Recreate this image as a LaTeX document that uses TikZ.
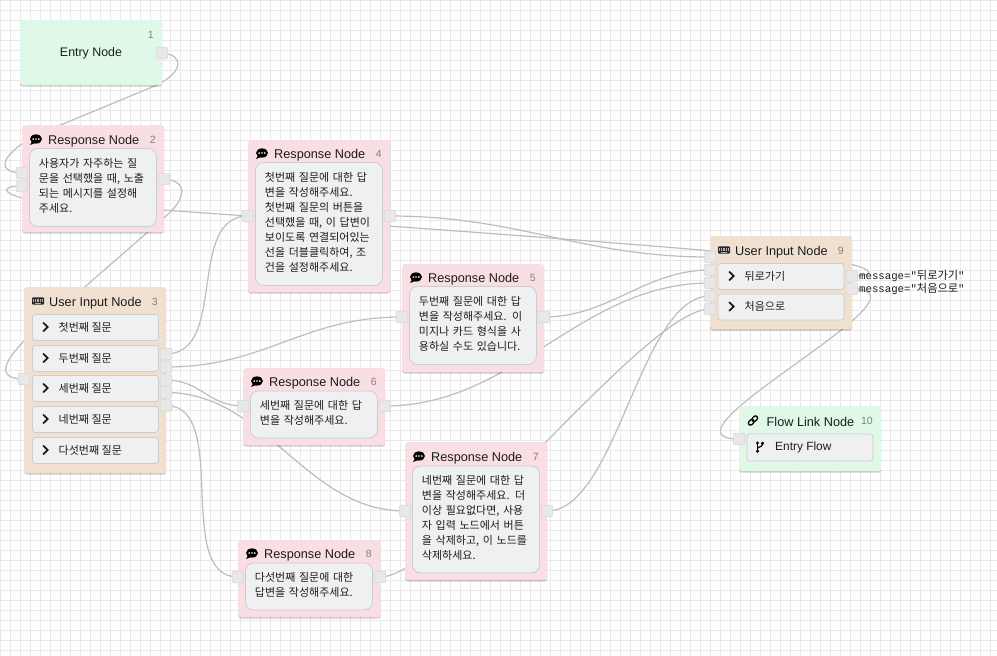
\documentclass[tikz,border=0pt]{standalone}
\usepackage{fontspec}
\setmainfont{Liberation Sans}
\newfontfamily\krfont{Noto Sans CJK KR}
\newfontfamily\monofont{Liberation Mono}
\usetikzlibrary{shadows}
\pgfdeclarelayer{gridlayer}
\pgfdeclarelayer{edgelayer}
\pgfsetlayers{gridlayer,edgelayer,main}
\definecolor{gridc}{HTML}{E9E9E9}
\definecolor{greenbg}{HTML}{DFF8E7}
\definecolor{pinkbg}{HTML}{F9DFE4}
\definecolor{tanbg}{HTML}{F0E0D0}
\definecolor{bodybg}{HTML}{EFF0F2}
\definecolor{bodyln}{HTML}{CDCDCF}
\definecolor{edgec}{HTML}{BDBDBD}
\definecolor{portbg}{HTML}{E8E8E8}
\definecolor{portln}{HTML}{DADADA}
\definecolor{inkc}{HTML}{1C1C1C}
\tikzset{
  x=1pt,y=-1pt,
  cardbox/.style={rectangle,rounded corners=2.5pt,anchor=north west,inner sep=0pt,
    drop shadow={shadow xshift=0pt,shadow yshift=-1.3pt,opacity=.2,fill=black}},
  greencard/.style={cardbox,fill=greenbg},
  pinkcard/.style={cardbox,fill=pinkbg},
  tancard/.style={cardbox,fill=tanbg},
  bodybox/.style={rectangle,rounded corners=8pt,anchor=north west,fill=bodybg,draw=bodyln,line width=.8pt,
    inner xsep=9.5pt,inner ysep=0pt,minimum width=127pt,text width=108pt,align=left,text=inkc,
    font=\krfont\fontsize{11}{15}\selectfont,execute at end node={\par\kern4pt}},
  btnbox/.style={rectangle,rounded corners=3pt,anchor=north west,fill=bodybg,draw=bodyln,line width=.8pt,
    inner sep=0pt,minimum width=126pt,text=inkc},
  btntext/.style={anchor=west,inner sep=0pt,text=inkc,yshift=-.7pt,font=\krfont\fontsize{11}{13}\selectfont},
  titletext/.style={anchor=west,inner sep=0pt,text=inkc,yshift=-1.4pt,font=\fontsize{12.7}{15}\selectfont},
  numtext/.style={anchor=east,inner sep=0pt,text=black!50,yshift=-.5pt,font=\fontsize{10.5}{13}\selectfont},
  msgtext/.style={anchor=west,inner sep=0pt,text=inkc,yshift=-1pt,font=\fontsize{10.7}{12}\selectfont},
  portbox/.style={rectangle,rounded corners=2pt,minimum width=11.5pt,minimum height=11.5pt,inner sep=0pt,fill=portbg,draw=portln,line width=.7pt},
  linkline/.style={draw=edgec,line width=1.2pt},
  speechicon/.pic={
    \fill[black] (0,0) ellipse [x radius=6pt,y radius=4.6pt];
    \fill[black] (-4,2.5) -- (-6,6) -- (-1,4) -- cycle;
    \fill[white] (-2.8,0) circle (.95pt) (0,0) circle (.95pt) (2.8,0) circle (.95pt);
  },
  keyicon/.pic={
    \fill[black!85,rounded corners=1pt] (-6,-3.6) rectangle (6,3.6);
    \foreach \yy in {-1.9,0} \foreach \xx in {-4.5,-2.7,-.9,.9,2.7,4.5}
      \fill[black!30] (\xx-.55,\yy-.55) rectangle (\xx+.55,\yy+.55);
    \fill[black!30] (-3,1.5) rectangle (3,2.6);
  },
  chevicon/.pic={
    \draw[black!90,line width=1.7pt,line cap=butt,line join=miter] (-2.4,-4.4) -- (2.2,0) -- (-2.4,4.4);
  },
  linkicon/.pic={
    \draw[black,line width=1.3pt,rotate=45,rounded corners=2pt] (-5.6,-2.1) rectangle (.6,2.1);
    \draw[black,line width=1.3pt,rotate=45,rounded corners=2pt] (-.6,-2.1) rectangle (5.6,2.1);
  },
  branchicon/.pic={
    \draw[black,line width=1.2pt] (-2.5,-3.5) -- (-2.5,3.5);
    \draw[black,line width=1.2pt] (-2.5,1.5) .. controls (-2.5,-.5) and (2.5,.5) .. (2.5,-3);
    \fill[black] (-2.5,-4) circle (1.7pt) (-2.5,4.2) circle (1.7pt) (2.5,-3.6) circle (1.7pt);
  },
}
\begin{document}
\begin{tikzpicture}
\useasboundingbox (0,0) rectangle (997,656);
\begin{pgfonlayer}{gridlayer}
  \fill[white] (0,0) rectangle (997,656);
  \foreach \gx in {0,10,...,990} \draw[gridc,line width=1pt] (\gx+.5,0) -- (\gx+.5,656);
  \foreach \gy in {0,10,...,650} \draw[gridc,line width=1pt] (0,\gy+.5) -- (997,\gy+.5);
\end{pgfonlayer}

% Entry node
\node[greencard,minimum width=142pt,minimum height=65pt] (n1) at (20,20) {};
\node[anchor=center,inner sep=0pt,text=inkc,font=\fontsize{12.4}{15}\selectfont] (n1t) at (91,53.5) {Entry Node};
\node[numtext] (n1n) at (154,34) {1};
\node[portbox] (p1r) at (162,53) {};

% Response 2
\node[pinkcard,minimum width=142pt,minimum height=107pt] (n2) at (22,125) {};
\pic at (36,139) {speechicon};
\node[titletext] (n2t) at (48,140) {Response Node};
\node[numtext] (n2n) at (156,139.5) {2};
\node[bodybox,minimum height=78pt] (n2b) at (29,148) {사용자가 자주하는 질\\문을 선택했을 때, 노출\\되는 메시지를 설정해\\주세요.};
\node[portbox] (p2a) at (22,173) {};
\node[portbox] (p2b) at (22,186) {};
\node[portbox] (p2r) at (164,179) {};

% User input 3
\node[tancard,minimum width=142pt,minimum height=186pt] (n3) at (24,287) {};
\pic at (38,301) {keyicon};
\node[titletext] (n3t) at (49,301.5) {User Input Node};
\node[numtext] (n3n) at (158,301) {3};
\foreach \nm/\yy/\lab in {a/314/첫번째 질문,b/345/두번째 질문,c/375/세번째 질문,d/406/네번째 질문,e/437/다섯번째 질문}{
  \node[btnbox,minimum height=26pt] (n3\nm) at (32,\yy) {};
  \pic at (45.5,\yy+13) {chevicon};
  \node[btntext] (n3\nm t) at (58.5,\yy+13) {\lab};
}
\node[portbox] (p3l) at (24,379) {};
\node[portbox] (p3a) at (166,354) {};
\node[portbox] (p3b) at (166,367) {};
\node[portbox] (p3c) at (166,380) {};
\node[portbox] (p3d) at (166,392.5) {};
\node[portbox] (p3e) at (166,405.5) {};

% Response 4
\node[pinkcard,minimum width=142pt,minimum height=152pt] (n4) at (248,140) {};
\pic at (262,153) {speechicon};
\node[titletext] (n4t) at (274,153.5) {Response Node};
\node[numtext] (n4n) at (382,153.5) {4};
\node[bodybox,minimum height=123pt] (n4b) at (255,162) {첫번째 질문에 대한 답\\변을 작성해주세요.\\첫번째 질문의 버튼을\\선택했을 때, 이 답변이\\보이도록 연결되어있는\\선을 더블클릭하여, 조\\건을 설정해주세요.};
\node[portbox] (p4l) at (248,216) {};
\node[portbox] (p4r) at (390,216) {};

% Response 5
\node[pinkcard,minimum width=142pt,minimum height=108pt] (n5) at (402,264) {};
\pic at (416,277) {speechicon};
\node[titletext] (n5t) at (428,277.5) {Response Node};
\node[numtext] (n5n) at (536,277.5) {5};
\node[bodybox,minimum height=78pt] (n5b) at (409,286) {두번째 질문에 대한 답\\변을 작성해주세요. 이\\미지나 카드 형식을 사\\용하실 수도 있습니다.};
\node[portbox] (p5l) at (402,317) {};
\node[portbox] (p5r) at (544,317) {};

% Response 6
\node[pinkcard,minimum width=142pt,minimum height=77pt] (n6) at (243,368) {};
\pic at (257,381) {speechicon};
\node[titletext] (n6t) at (269,381.5) {Response Node};
\node[numtext] (n6n) at (377,381) {6};
\node[bodybox,minimum height=47pt] (n6b) at (250,390.5) {세번째 질문에 대한 답\\변을 작성해주세요.};
\node[portbox] (p6l) at (243,406) {};
\node[portbox] (p6r) at (385,406) {};

% Response 7
\node[pinkcard,minimum width=142pt,minimum height=138pt] (n7) at (405,442) {};
\pic at (419,456) {speechicon};
\node[titletext] (n7t) at (431,456.5) {Response Node};
\node[numtext] (n7n) at (539,456.5) {7};
\node[bodybox,minimum height=107pt] (n7b) at (412,465.5) {네번째 질문에 대한 답\\변을 작성해주세요. 더\\이상 필요없다면, 사용\\자 입력 노드에서 버튼\\을 삭제하고, 이 노드를\\삭제하세요.};
\node[portbox] (p7l) at (405,511) {};
\node[portbox] (p7r) at (547,511) {};

% Response 8
\node[pinkcard,minimum width=142pt,minimum height=77pt] (n8) at (238,540) {};
\pic at (252,553) {speechicon};
\node[titletext] (n8t) at (264,553.5) {Response Node};
\node[numtext] (n8n) at (372,553) {8};
\node[bodybox,minimum height=47pt] (n8b) at (245,562.5) {다섯번째 질문에 대한\\답변을 작성해주세요.};
\node[portbox] (p8l) at (238,577) {};
\node[portbox] (p8r) at (380,577) {};

% User input 9
\node[tancard,minimum width=142pt,minimum height=93pt] (n9) at (710,236) {};
\pic at (724,250) {keyicon};
\node[titletext] (n9t) at (735,250.5) {User Input Node};
\node[numtext] (n9n) at (844,250.5) {9};
\foreach \nm/\yy/\lab in {a/263/뒤로가기,b/293.5/처음으로}{
  \node[btnbox,minimum height=26pt] (n9\nm) at (717.5,\yy) {};
  \pic at (731.5,\yy+13) {chevicon};
  \node[btntext] (n9\nm t) at (744.5,\yy+12.5) {\lab};
}
\node[portbox] (p9a) at (710,257) {};
\node[portbox] (p9b) at (710,270) {};
\node[portbox] (p9c) at (710,283) {};
\node[portbox] (p9d) at (710,296) {};
\node[portbox] (p9e) at (710,309) {};
\node[portbox] (p9r) at (852,276) {};
\node[portbox] (p9s) at (852,289) {};
\node[msgtext] (m1) at (859,274.5) {{\monofont message="}{\krfont\fontsize{11.2}{12}\selectfont 뒤로가기}{\monofont "}};
\node[msgtext] (m2) at (859,287.5) {{\monofont message="}{\krfont\fontsize{11.2}{12}\selectfont 처음으로}{\monofont "}};

% Flow link 10
\node[greencard,minimum width=142pt,minimum height=65pt] (n10) at (739,406) {};
\pic at (753,420.5) {linkicon};
\node[titletext] (n10t) at (766.5,420.5) {Flow Link Node};
\node[numtext] (n10n) at (873,420.5) {10};
\node[btnbox,minimum height=27pt] (n10a) at (746.5,433.5) {};
\pic at (760,447) {branchicon};
\node[anchor=west,inner sep=0pt,text=inkc,yshift=-.8pt,font=\fontsize{11.9}{14}\selectfont] (n10at) at (775,447) {Entry Flow};
\node[portbox] (p10l) at (739,439) {};

\begin{pgfonlayer}{edgelayer}
  \path[linkline] (p1r.center) .. controls (185,55) and (183,72) .. (157,85)
     -- (45,131.5) .. controls (10,146) and (-12,172) .. (p2a.center);
  \path[linkline] (p2r.center) .. controls (190,181) and (185,200) .. (165,217)
     -- (40,326) .. controls (15,348) and (-14,379) .. (p3l.center);
  \path[linkline] (p9r.center) .. controls (880,276) and (870,268) .. (845,263)
     .. controls (600,239) and (250,217) .. (40,201)
     .. controls (5,197) and (-5,186) .. (p2b.center);
  \path[linkline] (p3a.center) .. controls +(62,0) and +(-62,0) .. (p4l.center);
  \path[linkline] (p3b.center) .. controls +(100,0) and +(-100,0) .. (p5l.center);
  \path[linkline] (p3c.center) .. controls +(35,0) and +(-35,0) .. (p6l.center);
  \path[linkline] (p3d.center) .. controls +(100,0) and +(-100,0) .. (p7l.center);
  \path[linkline] (p3e.center) .. controls +(65,0) and +(-65,0) .. (p8l.center);
  \path[linkline] (p4r.center) .. controls +(130,0) and +(-130,0) .. (p9a.center);
  \path[linkline] (p5r.center) .. controls +(65,0) and +(-65,0) .. (p9b.center);
  \path[linkline] (p6r.center) .. controls +(130,0) and +(-130,0) .. (p9c.center);
  \path[linkline] (p7r.center) .. controls +(70,0) and +(-70,0) .. (p9d.center);
  \path[linkline] (p8r.center) .. controls +(65,0) and +(-65,0) .. (p9e.center);
  \path[linkline] (p9s.center) .. controls +(95,0) and +(-95,0) .. (p10l.center);
\end{pgfonlayer}
\end{tikzpicture}
\end{document}
